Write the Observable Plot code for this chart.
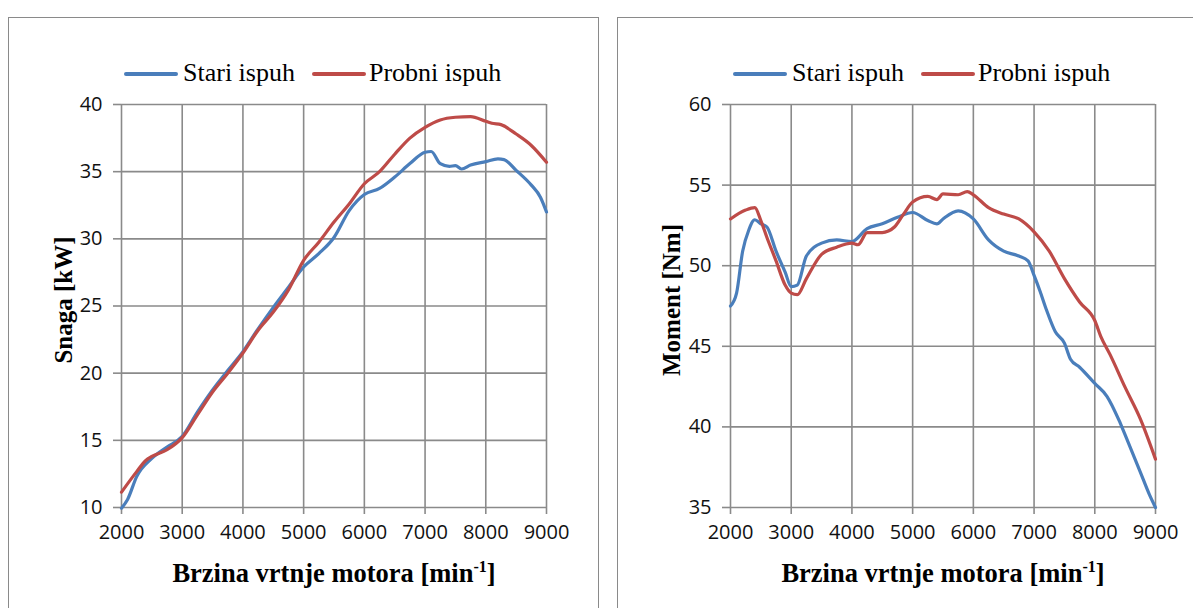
<!DOCTYPE html>
<html><head><meta charset="utf-8">
<script src="https://cdn.jsdelivr.net/npm/d3@7"></script>
<script src="https://cdn.jsdelivr.net/npm/@observablehq/plot@0.6"></script>
<style>
body{margin:0;width:1193px;height:608px;position:relative;overflow:hidden;background:#fff;}
.panel{position:absolute;border:1.5px solid #8a8a8a;box-sizing:border-box;}
.abs{position:absolute;white-space:nowrap;}
.leg{font-family:"Liberation Serif","Times New Roman",serif;font-size:26px;color:#000;line-height:1;}
.sw{position:absolute;height:4px;border-radius:2px;}
.xt{font-family:"Liberation Serif","Times New Roman",serif;font-weight:bold;font-size:26.5px;color:#000;line-height:1;transform:translateX(-50%);}
.xt sup{font-size:16px;vertical-align:10px;line-height:0;}
.yt{font-family:"Liberation Serif","Times New Roman",serif;font-weight:bold;font-size:25px;color:#000;line-height:1;transform:translate(-50%,-50%) rotate(-90deg);}
svg{position:absolute;}
</style></head>
<body>
<div class="panel" style="left:8px;top:17px;width:591px;height:640px;"></div>
<div class="panel" style="left:617px;top:17px;width:620px;height:640px;"></div>
<div id="c"></div>
<script>
// Snaga (power) – Stari ispuh
const rpmStariSnaga = [2000,2100,2250,2500,2750,3000,3250,3500,3750,4000,4250,4500,4750,5000,5250,5500,5750,6000,6250,6500,6750,7000,7100,7250,7400,7500,7600,7750,8000,8200,8300,8500,8750,8900,9000];
const stariSnaga = [9.95,10.6,12.3,13.65,14.5,15.3,17.1,18.75,20.2,21.6,23.3,24.9,26.4,27.9,28.9,30.1,32.1,33.3,33.75,34.6,35.6,36.45,36.5,35.6,35.4,35.45,35.2,35.5,35.75,35.95,35.9,35.1,34.0,33.1,32.0];
// Snaga – Probni ispuh
const rpmProbniSnaga = [2000,2250,2400,2500,2750,3000,3250,3500,3750,4000,4250,4500,4750,5000,5250,5500,5750,6000,6250,6500,6750,7000,7250,7500,7750,8000,8100,8250,8500,8750,9000];
const probniSnaga = [11.14,12.67,13.5,13.8,14.3,15.2,16.9,18.6,20.0,21.5,23.2,24.55,26.2,28.4,29.75,31.25,32.6,34.1,35.0,36.3,37.5,38.3,38.85,39.05,39.1,38.75,38.6,38.5,37.8,36.95,35.7];
// Moment (torque) – Stari ispuh
const rpmStariMoment = [2000,2100,2200,2300,2400,2500,2600,2750,2900,3000,3100,3250,3500,3750,4000,4250,4500,4750,5000,5250,5400,5500,5750,6000,6250,6500,6750,6900,7000,7100,7200,7350,7500,7600,7750,8000,8200,8400,8500,8750,8900,9000];
const stariMoment = [47.5,48.3,50.9,52.2,52.85,52.6,52.4,50.9,49.6,48.7,48.8,50.6,51.4,51.6,51.5,52.3,52.6,53.0,53.3,52.8,52.6,52.9,53.4,52.9,51.6,50.9,50.6,50.3,49.4,48.4,47.3,45.9,45.2,44.2,43.7,42.7,41.9,40.4,39.5,37.2,35.8,35.0];
// Moment – Probni ispuh
const rpmProbniMoment = [2000,2250,2400,2500,2600,2750,2900,3000,3100,3250,3500,3750,4000,4100,4250,4500,4600,4700,4850,5000,5250,5400,5500,5750,5900,6000,6250,6500,6750,7000,7250,7500,7750,8000,8100,8250,8500,8750,9000];
const probniMoment = [52.9,53.45,53.6,52.8,51.75,50.3,48.8,48.3,48.2,49.2,50.7,51.15,51.4,51.3,52.05,52.05,52.15,52.4,53.2,53.95,54.3,54.1,54.45,54.4,54.6,54.4,53.6,53.2,52.9,52.1,50.9,49.2,47.75,46.6,45.6,44.5,42.45,40.5,38.0];

const xTicks = [2000,3000,4000,5000,6000,7000,8000,9000];
const snagaTicks = [10,15,20,25,30,35,40];
const momentTicks = [35,40,45,50,55,60];
const seriesNames = ["Stari ispuh","Probni ispuh"];
const colors = ["#4a7ebb","#be4b48"];
const xTitle = "Brzina vrtnje motora [min";
const yTitles = ["Snaga [kW]","Moment [Nm]"];

const grid = "#8a8a8a";
function toRows(xs, ys, s){ return xs.map((x,i)=>({rpm:x, v:ys[i], s})); }

function chart(rowsA, rowsB, yDomain, yTicks, left){
  const rows = rowsA.concat(rowsB);
  const p = Plot.plot({
    width: 590, height: 591,
    marginLeft: 113, marginRight: 52, marginTop: 87, marginBottom: 101,
    style: {background:"transparent", fontFamily:"'Open Sans', sans-serif", fontSize:"20px", color:"#000", overflow:"visible"},
    x: {domain:[2000,9000], label:null},
    y: {domain:yDomain, label:null},
    color: {domain: seriesNames, range: colors},
    marks: [
      Plot.gridX(xTicks, {stroke:grid, strokeOpacity:1, strokeWidth:1.6}),
      Plot.gridY(yTicks, {stroke:grid, strokeOpacity:1, strokeWidth:1.6}),
      Plot.axisX(xTicks, {tickSize:7, tickPadding:10, stroke:grid, strokeWidth:1.6, fill:"#111", tickFormat:d=>String(d), label:null}),
      Plot.axisY(yTicks, {tickSize:8, tickPadding:11, stroke:grid, strokeWidth:1.6, fill:"#111", label:null}),
      Plot.line(rows, {x:"rpm", y:"v", z:"s", stroke:"s", strokeWidth:3.2, curve:"monotone-x"})
    ]
  });
  p.style.left = left + "px";
  p.style.top = "17px";
  return p;
}

const c = document.getElementById("c");
c.appendChild(chart(toRows(rpmStariSnaga, stariSnaga, seriesNames[0]), toRows(rpmProbniSnaga, probniSnaga, seriesNames[1]), [10,40], snagaTicks, 8));
c.appendChild(chart(toRows(rpmStariMoment, stariMoment, seriesNames[0]), toRows(rpmProbniMoment, probniMoment, seriesNames[1]), [35,60], momentTicks, 617));

function addLegend(x0, offsets){
  const items = [[offsets[0], offsets[1]], [offsets[2], offsets[3]]];
  items.forEach(([ls, ts], i) => {
    const sw = document.createElement("div");
    sw.className = "sw";
    sw.style.left = (x0+ls) + "px"; sw.style.top = "72px"; sw.style.width = "54px";
    sw.style.background = colors[i];
    c.appendChild(sw);
    const t = document.createElement("div");
    t.className = "abs leg";
    t.style.left = (x0+ts) + "px"; t.style.top = "60px";
    t.textContent = seriesNames[i];
    c.appendChild(t);
  });
}
addLegend(0, [124, 183, 312, 369]);
addLegend(609, [124, 183, 312, 369]);

function addTitles(cx, ycx, k){
  const t = document.createElement("div");
  t.className = "abs xt";
  t.style.left = cx + "px"; t.style.top = "560px";
  t.innerHTML = xTitle + "<sup>-1</sup>]";
  c.appendChild(t);
  const y = document.createElement("div");
  y.className = "abs yt";
  y.style.left = ycx + "px"; y.style.top = "300px";
  y.textContent = yTitles[k];
  c.appendChild(y);
}
addTitles(334, 63, 0);
addTitles(943, 671, 1);
</script>
</body></html>
